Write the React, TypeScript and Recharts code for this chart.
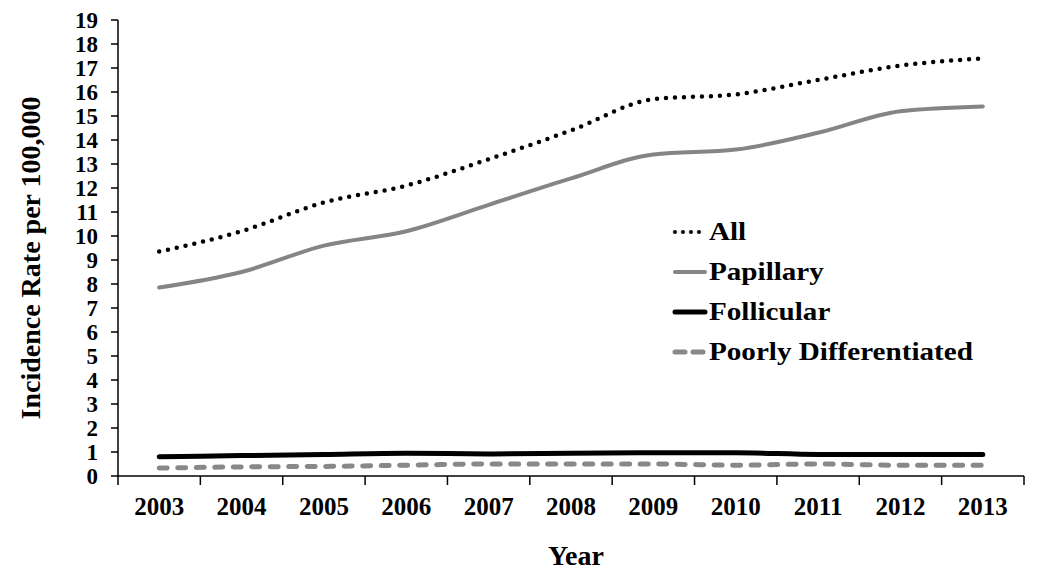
import React from 'react'
import { LineChart, Line, XAxis, YAxis, Legend, Label } from 'recharts'

const years = [2003, 2004, 2005, 2006, 2007, 2008, 2009, 2010, 2011, 2012, 2013]
const allRates = [9.35, 10.2, 11.4, 12.1, 13.2, 14.4, 15.7, 15.9, 16.5, 17.1, 17.4]
const papillary = [7.85, 8.5, 9.6, 10.2, 11.3, 12.4, 13.4, 13.6, 14.3, 15.2, 15.4]
const follicular = [0.8, 0.85, 0.9, 0.95, 0.92, 0.95, 0.97, 0.97, 0.9, 0.9, 0.9]
const poorly = [0.33, 0.38, 0.4, 0.45, 0.5, 0.5, 0.5, 0.45, 0.5, 0.45, 0.45]

const yTicks = Array.from({ length: 20 }, (_, i) => i)
// tick marks sit between years, labels on the years
const xTicks = [2002.5, ...years.flatMap(y => [y, y + 0.5])]

const data = years.map((year, i) => ({
  year,
  all: allRates[i],
  papillary: papillary[i],
  follicular: follicular[i],
  poorly: poorly[i],
}))

const FONT = '"Liberation Serif", "Times New Roman", serif'

const series = [
  { key: 'all', name: 'All', color: '#000', width: 4.5, dash: '0 9' },
  { key: 'papillary', name: 'Papillary', color: '#858585', width: 4, dash: undefined },
  { key: 'follicular', name: 'Follicular', color: '#000', width: 5, dash: undefined },
  { key: 'poorly', name: 'Poorly Differentiated', color: '#888', width: 5, dash: '8 10.5' },
]

function YearTick(props: any) {
  const { x, y, payload } = props
  const v = payload.value
  if (!Number.isInteger(v)) {
    return <line x1={x} x2={x} y1={y} y2={y + 9} stroke="#000" strokeWidth={1.5} />
  }
  return (
    <text x={x} y={y + 39} textAnchor="middle" fontFamily={FONT} fontWeight="bold" fontSize={25} fill="#000">
      {v}
    </text>
  )
}

function LegendBox() {
  return (
    <div style={{ fontFamily: FONT, fontWeight: 'bold', fontSize: 26, color: '#000' }}>
      {series.map(s => (
        <div key={s.key} style={{ display: 'flex', alignItems: 'center', height: 40 }}>
          <svg width={36} height={10} style={{ marginRight: 1 }}>
            <line
              x1={3}
              x2={33}
              y1={5}
              y2={5}
              stroke={s.color}
              strokeWidth={s.key === 'all' ? 4 : s.width}
              strokeDasharray={s.key === 'all' ? '0 8' : s.key === 'poorly' ? '10 8' : undefined}
              strokeLinecap="round"
            />
          </svg>
          <span style={{ display: 'inline-block', transform: 'scaleX(1.12)', transformOrigin: 'left center', whiteSpace: 'nowrap' }}>
            {s.name}
          </span>
        </div>
      ))}
    </div>
  )
}

export default function App() {
  return (
    <div style={{ position: 'absolute', left: 0, top: 0, background: '#fff' }}>
      <LineChart width={1058} height={570} data={data} margin={{ top: 20, right: 34, bottom: 0, left: 0 }}>
        <XAxis
          dataKey="year"
          type="number"
          domain={[2002.5, 2013.5]}
          ticks={xTicks}
          interval={0}
          tickLine={false}
          tickSize={0}
          tickMargin={0}
          tick={<YearTick />}
          height={94}
          axisLine={{ stroke: '#000', strokeWidth: 1.5 }}
        >
          <Label
            content={({ viewBox }: any) => (
              <text
                x={viewBox.x + viewBox.width / 2 + 5}
                y={viewBox.y + viewBox.height - 5}
                textAnchor="middle"
                fontFamily={FONT}
                fontWeight="bold"
                fontSize={28}
                fill="#000"
              >
                Year
              </text>
            )}
          />
        </XAxis>
        <YAxis
          type="number"
          domain={[0, 19]}
          ticks={yTicks}
          interval={0}
          width={118}
          tickSize={7}
          tickMargin={13}
          tick={{ fontFamily: FONT, fontWeight: 'bold', fontSize: 23, fill: '#000' }}
          tickLine={{ stroke: '#000', strokeWidth: 1.5 }}
          axisLine={{ stroke: '#000', strokeWidth: 1.5 }}
        >
          <Label
            content={({ viewBox }: any) => {
              const cy = viewBox.y + viewBox.height / 2 + 10
              return (
                <text
                  x={40}
                  y={cy}
                  transform={`rotate(-90, 40, ${cy})`}
                  textAnchor="middle"
                  fontFamily={FONT}
                  fontWeight="bold"
                  fontSize={28}
                  fill="#000"
                >
                  Incidence Rate per 100,000
                </text>
              )
            }}
          />
        </YAxis>
        <Legend
          layout="vertical"
          align="center"
          verticalAlign="middle"
          content={<LegendBox />}
          wrapperStyle={{ position: 'absolute', left: 672, top: 212, width: 360 }}
        />
        {series.map(s => (
          <Line
            key={s.key}
            dataKey={s.key}
            name={s.name}
            type="monotone"
            stroke={s.color}
            strokeWidth={s.width}
            strokeDasharray={s.dash}
            strokeLinecap="round"
            dot={false}
            activeDot={false}
            isAnimationActive={false}
          />
        ))}
      </LineChart>
    </div>
  )
}
